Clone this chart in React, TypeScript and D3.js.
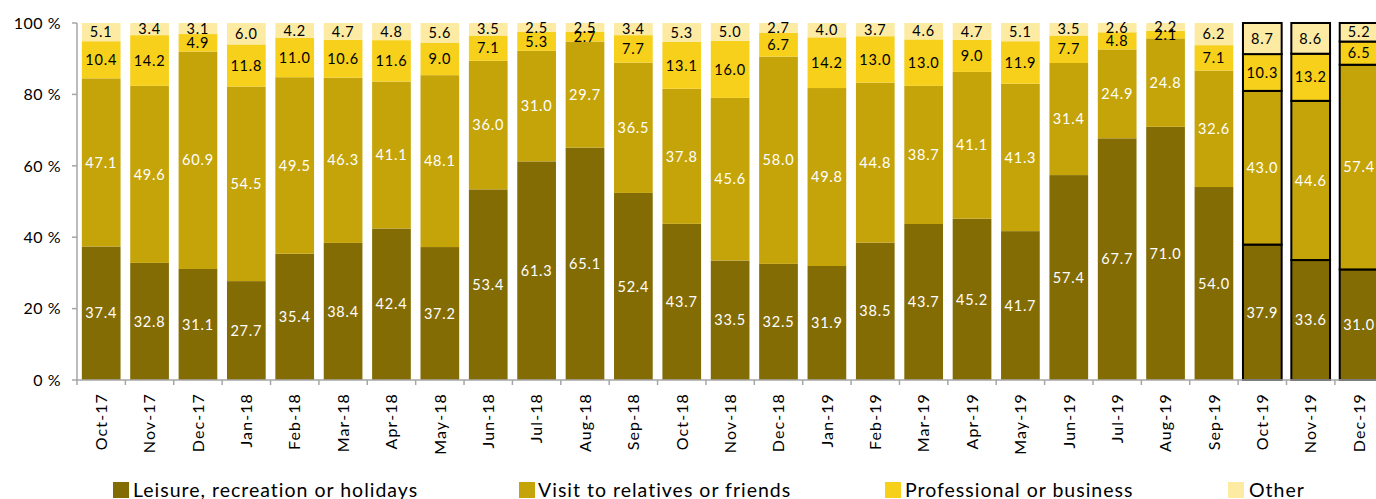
import React from "react";
import * as d3 from "d3";

const categories = ["Oct-17","Nov-17","Dec-17","Jan-18","Feb-18","Mar-18","Apr-18","May-18","Jun-18","Jul-18","Aug-18","Sep-18","Oct-18","Nov-18","Dec-18","Jan-19","Feb-19","Mar-19","Apr-19","May-19","Jun-19","Jul-19","Aug-19","Sep-19","Oct-19","Nov-19","Dec-19"];
const leisure = [37.4,32.8,31.1,27.7,35.4,38.4,42.4,37.2,53.4,61.3,65.1,52.4,43.7,33.5,32.5,31.9,38.5,43.7,45.2,41.7,57.4,67.7,71.0,54.0,37.9,33.6,31.0];
const visit = [47.1,49.6,60.9,54.5,49.5,46.3,41.1,48.1,36.0,31.0,29.7,36.5,37.8,45.6,58.0,49.8,44.8,38.7,41.1,41.3,31.4,24.9,24.8,32.6,43.0,44.6,57.4];
const professional = [10.4,14.2,4.9,11.8,11.0,10.6,11.6,9.0,7.1,5.3,2.7,7.7,13.1,16.0,6.7,14.2,13.0,13.0,9.0,11.9,7.7,4.8,2.1,7.1,10.3,13.2,6.5];
const other = [5.1,3.4,3.1,6.0,4.2,4.7,4.8,5.6,3.5,2.5,2.5,3.4,5.3,5.0,2.7,4.0,3.7,4.6,4.7,5.1,3.5,2.6,2.2,6.2,8.7,8.6,5.2];
const forecast = ["Oct-19","Nov-19","Dec-19"];
const yTicks = [0, 20, 40, 60, 80, 100];

const seriesNames = ["Leisure, recreation or holidays","Visit to relatives or friends","Professional or business","Other"];
const seriesColors = ["#846C05","#C5A409","#F6D01B","#FDEBA3"];
const labelColors = ["#FFFFFF","#FFFFFF","#000000","#000000"];
const seriesData = [leisure, visit, professional, other];

const W = 1376, H = 499;
const left = 77, top = 23, bottom = 380;
const step = 48.38;
const FONT = "Lato, 'Open Sans', sans-serif";

export default function App() {
  const x = d3.scaleBand<string>().domain(categories).range([left, left + step * categories.length]).paddingInner(0.2).paddingOuter(0.1);
  const y = d3.scaleLinear().domain([0, 100]).range([bottom, top]);

  const rows = categories.map((c, i) => {
    const o: any = { cat: c };
    seriesNames.forEach((s, k) => (o[s] = seriesData[k][i]));
    return o;
  });
  const stack = d3.stack<any>().keys(seriesNames).offset(d3.stackOffsetExpand);
  const stacked = stack(rows);

  const legendX = [113, 519, 885, 1228];
  const legendTextX = [133, 538, 905, 1249];

  return (
    <svg width={W} height={H} style={{ position: "absolute", left: 0, top: 0, background: "#fff" }} fontFamily={FONT}>
      {stacked.map((layer, k) => (
        <g key={k}>
          {layer.map((d, i) => {
            const cat = categories[i];
            const isF = forecast.includes(cat);
            const x0 = x(cat)!;
            const y0 = y(d[1] * 100);
            const y1 = y(d[0] * 100);
            return (
              <rect key={cat} x={x0} y={y0} width={x.bandwidth()} height={y1 - y0}
                fill={seriesColors[k]}
                stroke={isF ? "#000" : "none"} strokeWidth={isF ? 2 : 0} />
            );
          })}
        </g>
      ))}
      {stacked.map((layer, k) => (
        <g key={"l" + k}>
          {layer.map((d, i) => {
            const cat = categories[i];
            const cx = x(cat)! + x.bandwidth() / 2;
            const cy = y(((d[0] + d[1]) / 2) * 100);
            return (
              <text key={cat} x={cx} y={cy} dy="0.36em" textAnchor="middle" fontSize={14.5} letterSpacing={0.8} fill={labelColors[k]}>
                {seriesData[k][i].toFixed(1)}
              </text>
            );
          })}
        </g>
      ))}
      {/* axes */}
      <line x1={left} x2={left} y1={top} y2={bottom} stroke="#A6A6A6" strokeWidth={1.5} />
      <line x1={left} x2={W} y1={bottom} y2={bottom} stroke="#A6A6A6" strokeWidth={1.5} />
      {yTicks.map((t) => (
        <g key={t}>
          <line x1={left - 5} x2={left} y1={y(t)} y2={y(t)} stroke="#A6A6A6" strokeWidth={1.5} />
          <text x={61} y={y(t)} dy="0.36em" textAnchor="end" fontSize={16} letterSpacing={0.5} fill="#000">{t} %</text>
        </g>
      ))}
      {categories.map((c, i) => (
        <line key={"t" + c} x1={left + step * i} x2={left + step * i} y1={bottom} y2={bottom + 5} stroke="#A6A6A6" strokeWidth={1.5} />
      ))}
      {categories.map((c) => {
        const cx = x(c)! + x.bandwidth() / 2;
        return (
          <text key={"x" + c} transform={`translate(${cx},393) rotate(-90)`} textAnchor="end" dy="0.36em" fontSize={16} letterSpacing={1.1} fill="#000">{c}</text>
        );
      })}
      {/* legend */}
      {seriesNames.map((s, k) => (
        <g key={"lg" + k}>
          <rect x={legendX[k]} y={482} width={16} height={16} fill={seriesColors[k]} />
          <text x={legendTextX[k]} y={497} fontSize={19.5} letterSpacing={1} fill="#000">{s}</text>
        </g>
      ))}
    </svg>
  );
}
